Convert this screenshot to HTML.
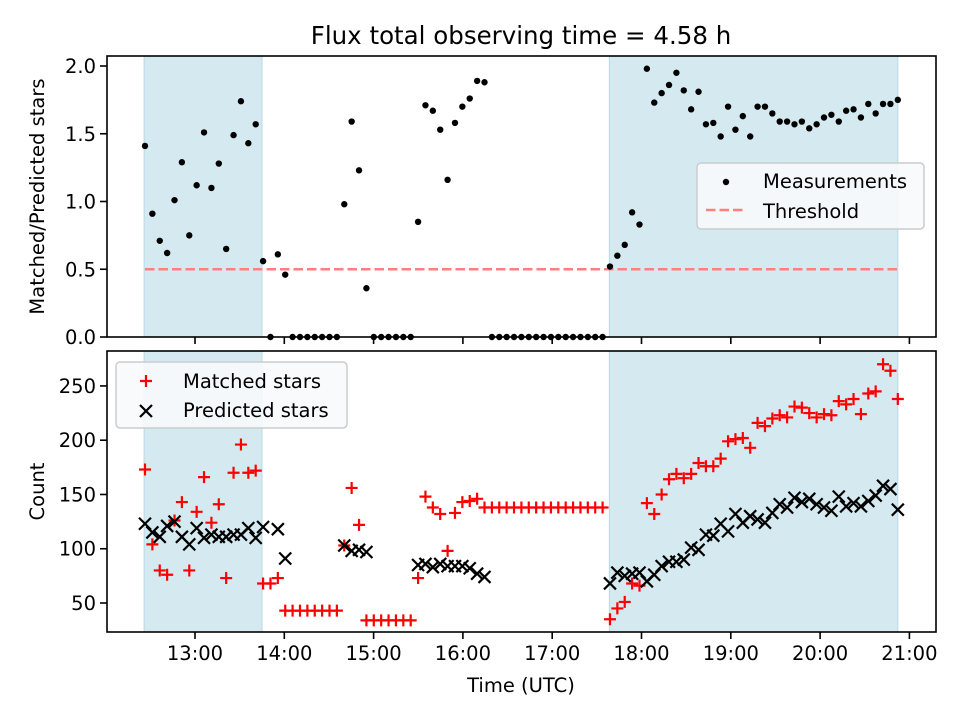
<!DOCTYPE html>
<html><head><meta charset="utf-8"><style>
body{margin:0;background:#fff}
svg{display:block;font-family:"DejaVu Sans","Liberation Sans",sans-serif}
</style></head><body>
<svg id="chart" width="960" height="720" viewBox="0 0 960 720">
<rect width="960" height="720" fill="#fff"/>
<text x="521" y="44" font-size="24.5" text-anchor="middle">Flux total observing time = 4.58 h</text>
<g id="topPanel"></g>
<g id="botPanel"></g>
</svg>
<script>
const startHour = 12.44;
const stepHours = 0.08265;
const spans = [[12.43, 13.75], [17.64, 20.87]];
const threshold = 0.5;
const ratio = [1.41,0.91,0.71,0.62,1.01,1.29,0.75,1.12,1.51,1.10,1.28,0.65,1.49,1.74,1.43,1.57,0.56,0,0.61,0.46,
0,0,0,0,0,0,0,0.98,1.59,1.23,0.36,0,0,0,0,0,0,0.85,1.71,1.67,1.53,1.16,1.58,1.70,1.76,1.89,1.88,
0,0,0,0,0,0,0,0,0,0,0,0,0,0,0,0,
0.52,0.60,0.68,0.92,0.83,
1.98,1.73,1.80,1.86,1.95,1.82,1.68,1.81,1.57,1.58,1.48,1.70,1.53,1.63,1.48,1.70,1.70,1.65,1.59,1.59,1.57,1.59,1.54,1.57,1.62,1.64,1.59,1.67,1.68,1.62,1.72,1.65,1.72,1.72,1.75];
const matched = [173,104,80,76,126,143,80,134,166,124,141,73,170,196,170,172,68,68,73,43,
43,43,43,43,43,43,43,103,156,122,34,34,34,34,34,34,34,73,148,138,132,98,133,143,144,146,138,
138,138,138,138,138,138,138,138,138,138,138,138,138,138,138,138,
35,45,51,68,66,
142,132,150,164,169,165,169,179,176,176,183,199,201,202,193,216,213,220,223,221,231,230,225,221,224,223,236,233,238,224,243,245,270,264,238];
const predicted = [123,115,111,121,125,111,104,119,110,113,111,111,113,113,119,110,120,null,118,91,
null,null,null,null,null,null,null,103,98,99,97,null,null,null,null,null,null,85,86,83,86,84,84,84,82,77,74,
null,null,null,null,null,null,null,null,null,null,null,null,null,null,null,null,
68,78,75,77,78,
70,76,84,88,88,90,101,99,113,112,123,116,132,124,130,127,124,133,141,138,147,143,146,141,138,135,148,139,142,139,144,149,158,155,136];
const xTicks = [13,14,15,16,17,18,19,20,21];
const xTickLabels = ["13:00","14:00","15:00","16:00","17:00","18:00","19:00","20:00","21:00"];
const topTicks = [0,0.5,1.0,1.5,2.0];
const topTickLabels = ["0.0","0.5","1.0","1.5","2.0"];
const botTicks = [50,100,150,200,250];
const botTickLabels = ["50","100","150","200","250"];

const NS="http://www.w3.org/2000/svg";
const L=107,R=936;
const T1=56,B1=337,T2=351,B2=632;
const xs=h=>105.7+(h-12)*89.3;
const yTop=v=>337-v*135.5;
const yBot=v=>603-(v-50)*1.0853;
const times=ratio.map((_,i)=>startHour+i*stepHours);
function mk(tag,attrs,parent){const e=document.createElementNS(NS,tag);for(const k in attrs)e.setAttribute(k,attrs[k]);parent.appendChild(e);return e;}
const topG=document.getElementById('topPanel'),botG=document.getElementById('botPanel');

function frame(g,T,B,yt,yl,yf,label,showX){
  spans.forEach((s,i)=>{const r=mk('rect',{x:xs(s[0]),y:T,width:xs(s[1])-xs(s[0]),height:B-T,fill:'#d4eaf0',stroke:'#b6d9e4','stroke-width':1},g);
    
    });
  xTicks.forEach((t,i)=>{mk('line',{x1:xs(t),x2:xs(t),y1:B,y2:B+7,stroke:'#000','stroke-width':1.6},g);
    if(showX){const tx=mk('text',{x:xs(t),y:B+28,'font-size':19.5,'text-anchor':'middle'},g);tx.textContent=xTickLabels[i];
      
      }});
  yt.forEach((t,i)=>{const y=yf(t);mk('line',{x1:L-7,x2:L,y1:y,y2:y,stroke:'#000','stroke-width':1.6},g);
    const tx=mk('text',{x:L-11,y:y+7,'font-size':19.5,'text-anchor':'end'},g);tx.textContent=yl[i];
    
    });
  const yl2=mk('text',{transform:`translate(44,${(T+B)/2}) rotate(-90)`,'font-size':19.5,'text-anchor':'middle'},g);yl2.textContent=label;
  
  
}
frame(topG,T1,B1,topTicks,topTickLabels,yTop,'Matched/Predicted stars',false);
frame(botG,T2,B2,botTicks,botTickLabels,yBot,'Count',true);

const th=mk('line',{x1:xs(times[0]),x2:xs(times[times.length-1]),y1:yTop(threshold),y2:yTop(threshold),stroke:'#ff7f7f','stroke-width':2.5,'stroke-dasharray':'9.5,4'},topG);


ratio.forEach((v,i)=>{const c=mk('circle',{cx:xs(times[i]),cy:yTop(v),r:3.2,fill:'#000'},topG);
  
  });
function plus(g,x,y){const p=mk('path',{d:`M${x-6},${y}H${x+6}M${x},${y-6}V${y+6}`,stroke:'#f00','stroke-width':2.2,fill:'none'},g);
  
  }
function cross(g,x,y){const p=mk('path',{d:`M${x-6},${y-6}L${x+6},${y+6}M${x-6},${y+6}L${x+6},${y-6}`,stroke:'#000','stroke-width':2.2,fill:'none'},g);
  
  }
matched.forEach((v,i)=>{if(v!=null)plus(botG,xs(times[i]),yBot(v));});
predicted.forEach((v,i)=>{if(v!=null)cross(botG,xs(times[i]),yBot(v));});

mk('rect',{x:L,y:T1,width:R-L,height:B1-T1,fill:'none',stroke:'#000','stroke-width':1.6},topG);
mk('rect',{x:L,y:T2,width:R-L,height:B2-T2,fill:'none',stroke:'#000','stroke-width':1.6},botG);
const xl=mk('text',{x:521,y:692,'font-size':19.5,'text-anchor':'middle'},botG);xl.textContent='Time (UTC)';



const lg1=mk('g',{},topG);


mk('rect',{x:697,y:163,width:227,height:66,rx:4,fill:'#f7f9fb','fill-opacity':0.9,stroke:'#ccc','stroke-width':1.5},lg1);
mk('circle',{cx:726,cy:182,r:3.2,fill:'#000'},lg1);
mk('line',{x1:706,x2:746,y1:210,y2:210,stroke:'#ff7f7f','stroke-width':2.5,'stroke-dasharray':'9.5,4'},lg1);
let t=mk('text',{x:763,y:188,'font-size':19.5},lg1);t.textContent='Measurements';
t=mk('text',{x:763,y:218,'font-size':19.5},lg1);t.textContent='Threshold';
const lg2=mk('g',{},botG);


mk('rect',{x:116,y:362,width:231,height:66,rx:4,fill:'#f7f9fb','fill-opacity':0.9,stroke:'#ccc','stroke-width':1.5},lg2);
plus(lg2,146,381);cross(lg2,146,411);
t=mk('text',{x:183,y:388,'font-size':19.5},lg2);t.textContent='Matched stars';
t=mk('text',{x:183,y:417,'font-size':19.5},lg2);t.textContent='Predicted stars';
</script>
</body></html>
